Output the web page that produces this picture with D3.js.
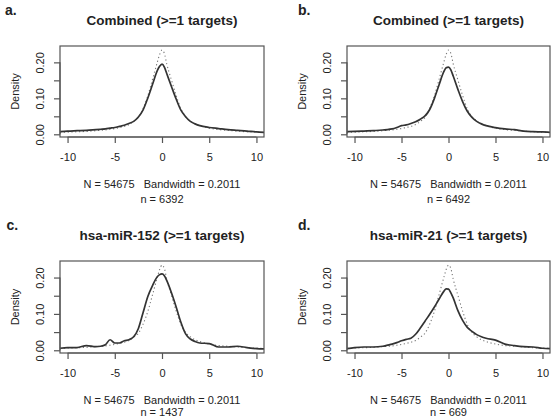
<!DOCTYPE html>
<html lang="en">
<head>
	<meta charset="utf-8">
	<title>Density plots</title>
	<script src="https://cdn.jsdelivr.net/npm/d3@7"></script>
	<style>
		body { margin: 0; background: #fff; }
		text { font-family: "Liberation Sans", Arial, Helvetica, sans-serif; fill: #222; }
	</style>
</head>
<body>
<script>

// Shared x grid for all the density curves
var xGrid = [-10.8, -10, -9, -8, -7, -6.5, -6, -5.5, -5, -4.5, -4, -3.5, -3, -2.5, -2, -1.5, -1, -0.5, -0.25,
	0, 0.25, 0.5, 1, 1.5, 2, 2.5, 3, 3.5, 4, 5, 6, 7, 8, 9, 10, 10.8];

// Reference density (dotted), same in all four panels
var refDensity = [0.005, 0.006, 0.007, 0.008, 0.010, 0.011, 0.012, 0.014, 0.016, 0.019, 0.022, 0.027, 0.036, 0.047, 0.072, 0.107, 0.153, 0.200, 0.222,
	0.234, 0.225, 0.196, 0.151, 0.108, 0.071, 0.049, 0.037, 0.029, 0.024, 0.017, 0.013, 0.011, 0.009, 0.007, 0.006, 0.005];

// Target densities (solid)
var densA = [0.0074, 0.009, 0.010, 0.011, 0.013, 0.014, 0.015, 0.017, 0.019, 0.022, 0.025, 0.030, 0.036, 0.048, 0.068, 0.101, 0.139, 0.177, 0.189,
	0.195, 0.187, 0.169, 0.133, 0.098, 0.067, 0.049, 0.036, 0.029, 0.024, 0.019, 0.016, 0.013, 0.011, 0.009, 0.0065, 0.0055];
var densB = [0.0074, 0.008, 0.009, 0.010, 0.012, 0.013, 0.015, 0.019, 0.024, 0.026, 0.030, 0.035, 0.042, 0.051, 0.069, 0.100, 0.138, 0.174, 0.185,
	0.187, 0.179, 0.162, 0.125, 0.091, 0.064, 0.047, 0.036, 0.029, 0.024, 0.0185, 0.015, 0.013, 0.009, 0.0074, 0.0065, 0.0055];
var densC = [0.0055, 0.0074, 0.0074, 0.013, 0.010, 0.011, 0.015, 0.029, 0.020, 0.020, 0.026, 0.029, 0.037, 0.060, 0.104, 0.148, 0.178, 0.202, 0.208,
	0.210, 0.205, 0.192, 0.158, 0.119, 0.077, 0.045, 0.031, 0.024, 0.020, 0.0185, 0.009, 0.009, 0.011, 0.0074, 0.0046, 0.004];
var densD = [0.0046, 0.0074, 0.009, 0.009, 0.011, 0.014, 0.017, 0.021, 0.026, 0.030, 0.033, 0.044, 0.061, 0.080, 0.099, 0.119, 0.141, 0.162, 0.169,
	0.168, 0.158, 0.144, 0.109, 0.082, 0.063, 0.052, 0.043, 0.037, 0.033, 0.028, 0.017, 0.013, 0.010, 0.009, 0.0055, 0.0046];

// Panel labels and texts
var letters = ["a.", "b.", "c.", "d."];
var titles = ["Combined (>=1 targets)", "Combined (>=1 targets)", "hsa-miR-152 (>=1 targets)", "hsa-miR-21 (>=1 targets)"];
var sampleN = [6392, 6492, 1437, 669];
var xTicks = [-10, -5, 0, 5, 10];
var yTicks = [0, 0.05, 0.10, 0.15, 0.20];
var yTickLabels = ["0.00", "", "0.10", "", "0.20"];

var solids = [densA, densB, densC, densD];

// Plot boxes
var boxes = [
	{left: 60, right: 264, top: 46, bottom: 137, nGap: 66, letterX: 5, letterY: 15},
	{left: 347, right: 550, top: 46, bottom: 137, nGap: 66, letterX: 298, letterY: 15},
	{left: 60, right: 264, top: 261, bottom: 353, nGap: 63, letterX: 6.5, letterY: 229.5},
	{left: 347, right: 550, top: 261, bottom: 353, nGap: 63, letterX: 298, letterY: 229.5}
];

var svg = d3.select("body")
			.append("svg")
			.attr("width", 552)
			.attr("height", 420);

function drawPanel(i){
	var b = boxes[i];
	var g = svg.append("g");

	var xScale = d3.scaleLinear()
					.domain([-10.8, 10.8])
					.range([b.left, b.right]);
	var yScale = d3.scaleLinear()
					.domain([-0.0075, 0.2455])
					.range([b.bottom, b.top]);

	// density lines
	var line = d3.line()
				.x(function(d) { return xScale(d[0]); })
				.y(function(d) { return yScale(d[1]); })
				.curve(d3.curveMonotoneX);

	g.append("path")
		.datum(xGrid.map(function(x, k) { return [x, refDensity[k]]; }))
		.attr("d", line)
		.attr("fill", "none")
		.attr("stroke", "#777")
		.attr("stroke-width", 1.1)
		.attr("stroke-dasharray", "1.2,2.6");

	g.append("path")
		.datum(xGrid.map(function(x, k) { return [x, solids[i][k]]; }))
		.attr("d", line)
		.attr("fill", "none")
		.attr("stroke", "#333")
		.attr("stroke-width", 1.7);

	// box
	g.append("rect")
		.attr("x", b.left)
		.attr("y", b.top)
		.attr("width", b.right - b.left)
		.attr("height", b.bottom - b.top)
		.attr("fill", "none")
		.attr("stroke", "#555")
		.attr("stroke-width", 1.2);

	// x axis
	var xAxis = d3.axisBottom(xScale)
				.tickValues(xTicks)
				.tickSize(6)
				.tickPadding(3)
				.tickFormat(function(d) { return d < 0 ? "-" + Math.abs(d) : d; });
	var gx = g.append("g")
		.attr("transform", "translate(0," + b.bottom + ")")
		.call(xAxis);
	gx.select(".domain").remove();
	gx.append("line")
		.attr("x1", xScale(-10)).attr("x2", xScale(10))
		.attr("stroke", "#555").attr("stroke-width", 1.2);
	gx.selectAll(".tick line").attr("stroke", "#555").attr("stroke-width", 1.2);
	gx.selectAll(".tick text")
		.attr("y", 20)
		.attr("dy", "0.35em")
		.style("font-size", "11px")
		.attr("fill", "#222");

	// y axis
	var yAxis = d3.axisLeft(yScale)
				.tickValues(yTicks)
				.tickSize(6)
				.tickFormat(function(d, k) { return yTickLabels[k]; });
	var gy = g.append("g")
		.attr("transform", "translate(" + b.left + ",0)")
		.call(yAxis);
	gy.select(".domain").remove();
	gy.append("line")
		.attr("y1", yScale(0)).attr("y2", yScale(0.20))
		.attr("stroke", "#555").attr("stroke-width", 1.2);
	gy.selectAll(".tick line").attr("stroke", "#555").attr("stroke-width", 1.2);
	gy.selectAll(".tick text")
		.attr("x", null)
		.attr("dy", null)
		.attr("text-anchor", "middle")
		.attr("transform", "translate(-16,0) rotate(-90)")
		.style("font-size", "11px")
		.attr("fill", "#222");

	// y label
	g.append("text")
		.attr("transform", "translate(" + (b.left - 41) + "," + ((b.top + b.bottom) / 2) + ") rotate(-90)")
		.attr("text-anchor", "middle")
		.style("font-size", "11px")
		.text("Density");

	var cx = (b.left + b.right) / 2;

	// title
	g.append("text")
		.attr("x", cx)
		.attr("y", b.top - 21.5)
		.attr("text-anchor", "middle")
		.style("font-size", "13.5px")
		.style("font-weight", "bold")
		.text(titles[i]);

	// sub labels
	g.append("text")
		.attr("x", cx)
		.attr("y", b.bottom + 51)
		.attr("text-anchor", "middle")
		.style("font-size", "11px")
		.text("N = 54675\u00a0\u00a0\u00a0Bandwidth = 0.2011");

	g.append("text")
		.attr("x", cx)
		.attr("y", b.bottom + b.nGap)
		.attr("text-anchor", "middle")
		.style("font-size", "11px")
		.text("n = " + sampleN[i]);

	// panel letter
	g.append("text")
		.attr("x", b.letterX)
		.attr("y", b.letterY)
		.style("font-size", "14px")
		.style("font-weight", "bold")
		.text(letters[i]);
}

for (var i = 0; i < 4; i++){
	drawPanel(i);
}

</script>
</body>
</html>
